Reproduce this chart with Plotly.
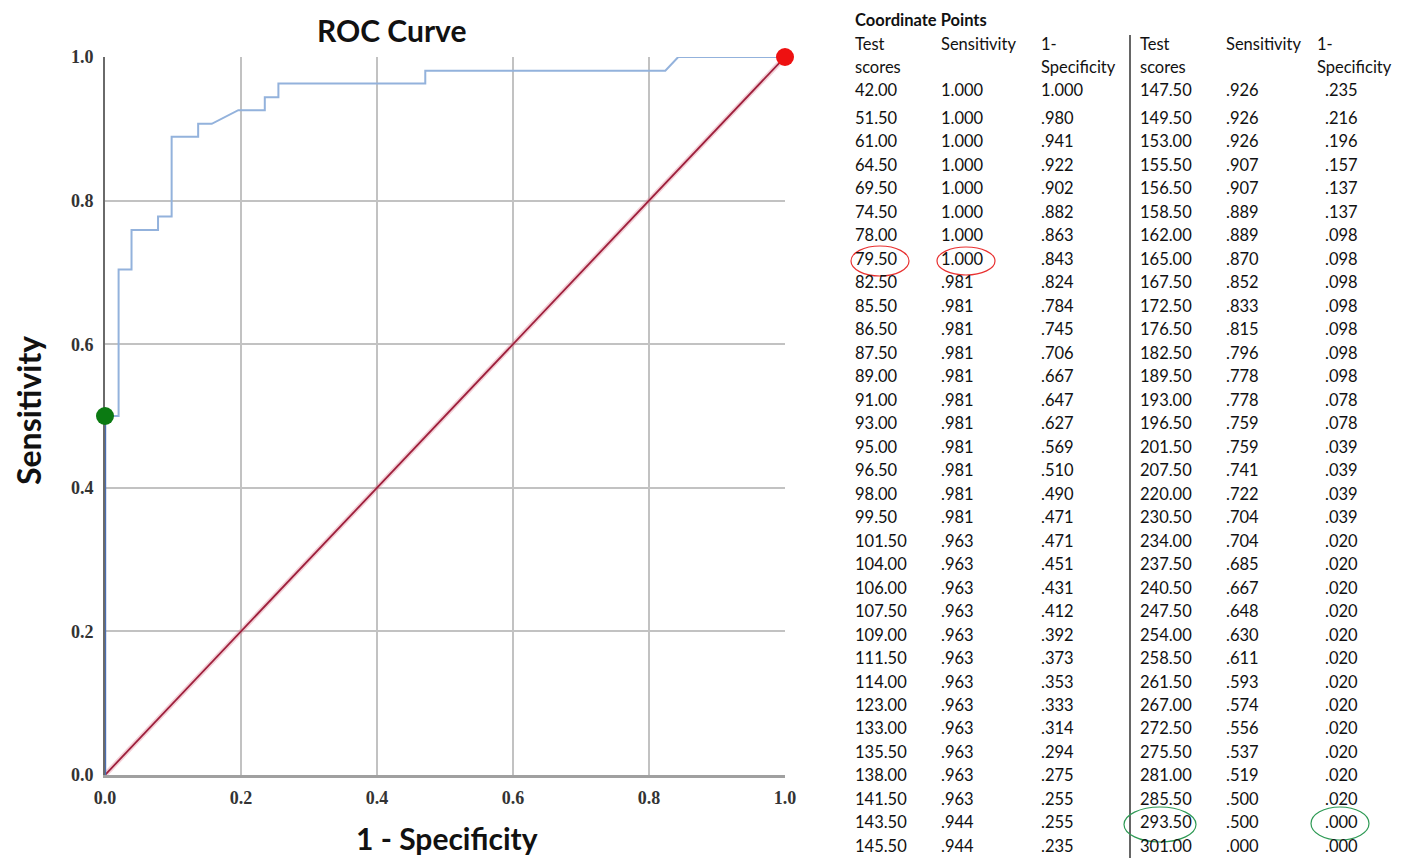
import plotly.graph_objects as go

# ---------------- data ----------------
scores_left = [42.00, 51.50, 61.00, 64.50, 69.50, 74.50, 78.00, 79.50, 82.50, 85.50, 86.50,
               87.50, 89.00, 91.00, 93.00, 95.00, 96.50, 98.00, 99.50, 101.50, 104.00, 106.00,
               107.50, 109.00, 111.50, 114.00, 123.00, 133.00, 135.50, 138.00, 141.50, 143.50, 145.50]
sens_left = [1.000, 1.000, 1.000, 1.000, 1.000, 1.000, 1.000, 1.000, .981, .981, .981,
             .981, .981, .981, .981, .981, .981, .981, .981, .963, .963, .963,
             .963, .963, .963, .963, .963, .963, .963, .963, .963, .944, .944]
fpr_left = [1.000, .980, .941, .922, .902, .882, .863, .843, .824, .784, .745,
            .706, .667, .647, .627, .569, .510, .490, .471, .471, .451, .431,
            .412, .392, .373, .353, .333, .314, .294, .275, .255, .255, .235]

scores_right = [147.50, 149.50, 153.00, 155.50, 156.50, 158.50, 162.00, 165.00, 167.50, 172.50, 176.50,
                182.50, 189.50, 193.00, 196.50, 201.50, 207.50, 220.00, 230.50, 234.00, 237.50, 240.50,
                247.50, 254.00, 258.50, 261.50, 267.00, 272.50, 275.50, 281.00, 285.50, 293.50, 301.00]
sens_right = [.926, .926, .926, .907, .907, .889, .889, .870, .852, .833, .815,
              .796, .778, .778, .759, .759, .741, .722, .704, .704, .685, .667,
              .648, .630, .611, .593, .574, .556, .537, .519, .500, .500, .000]
fpr_right = [.235, .216, .196, .157, .137, .137, .098, .098, .098, .098, .098,
             .098, .098, .078, .078, .039, .039, .039, .039, .020, .020, .020,
             .020, .020, .020, .020, .020, .020, .020, .020, .020, .000, .000]

ref_x = [0.0, 1.0]
ref_y = [0.0, 1.0]
green_point = (0.0, 0.5)
red_point = (1.0, 1.0)
axis_ticks = [0.0, 0.2, 0.4, 0.6, 0.8, 1.0]

# ---------------- layout helpers (page pixel -> paper) ----------------
W, H = 1386, 851
OX, OY = 8, 8    # body margin of the page


def fx(px):
    return (px - OX) / W


def fy(py):
    return 1 - (py - OY) / H


def fmt3(v):
    s = f"{v:.3f}"
    return s[1:] if s.startswith("0") else s


roc_x = fpr_left + fpr_right
roc_y = sens_left + sens_right
zero_x = [x for x in roc_x if x == 0.0]
zero_y = [y for x, y in zip(roc_x, roc_y) if x == 0.0]

fig = go.Figure()
fig.add_trace(go.Scatter(x=ref_x, y=ref_y, mode="lines",
                         line=dict(color="rgba(220,120,140,0.35)", width=5),
                         hoverinfo="skip", showlegend=False))
fig.add_trace(go.Scatter(x=ref_x, y=ref_y, mode="lines",
                         line=dict(color="#9e1f3c", width=1.8),
                         showlegend=False))
fig.add_trace(go.Scatter(x=roc_x, y=roc_y, mode="lines",
                         line=dict(color="#93b2dc", width=2),
                         showlegend=False, cliponaxis=False))
fig.add_trace(go.Scatter(x=zero_x, y=zero_y, mode="lines",
                         line=dict(color="#4a6eb2", width=2.4),
                         showlegend=False, cliponaxis=False))
fig.add_trace(go.Scatter(x=[green_point[0]], y=[green_point[1]], mode="markers",
                         marker=dict(color="#0b7a12", size=18),
                         showlegend=False, cliponaxis=False))
fig.add_trace(go.Scatter(x=[red_point[0]], y=[red_point[1]], mode="markers",
                         marker=dict(color="#ee1111", size=18),
                         showlegend=False, cliponaxis=False))

tick_font = dict(family="Liberation Serif", size=18, color="#333333", weight="bold")
tick_text = [f"{t:.1f}" for t in axis_ticks]

fig.update_xaxes(domain=[fx(105), fx(785)], range=[0, 1], tickvals=axis_ticks, ticktext=tick_text,
                 automargin=False, layer="below traces",
                 showgrid=True, gridcolor="#c2c2c2", gridwidth=1.5, zeroline=False,
                 showline=True, linecolor="#a0a0a0", linewidth=3,
                 ticks="outside", ticklen=4, tickcolor="rgba(0,0,0,0)", tickfont=tick_font)
fig.update_yaxes(domain=[fy(775), fy(57)], range=[0, 1], tickvals=axis_ticks, ticktext=tick_text,
                 automargin=False, layer="below traces",
                 showgrid=True, gridcolor="#c2c2c2", gridwidth=1.5, zeroline=False,
                 showline=True, linecolor="#6a6a6a", linewidth=2,
                 ticks="outside", ticklen=6, tickcolor="rgba(0,0,0,0)", tickfont=tick_font)

annotations = []
title_font = "Lato"
annotations.append(dict(text="<b>ROC Curve</b>", x=fx(392), y=fy(30), xref="paper", yref="paper",
                        showarrow=False, xanchor="center", yanchor="middle",
                        font=dict(family=title_font, size=30, color="#111111")))
annotations.append(dict(text="<b>1 - Specificity</b>", x=fx(447), y=fy(838), xref="paper", yref="paper",
                        showarrow=False, xanchor="center", yanchor="middle",
                        font=dict(family=title_font, size=30, color="#111111")))
annotations.append(dict(text="<b>Sensitivity</b>", x=fx(28), y=fy(411), xref="paper", yref="paper",
                        showarrow=False, xanchor="center", yanchor="middle", textangle=-90,
                        font=dict(family=title_font, size=32, color="#111111")))

# ---------------- table ----------------
tfont = dict(family="Lato", size=16.5, color="#111111")
annotations.append(dict(text="<b>Coordinate Points</b>", x=fx(853), y=fy(20), xref="paper", yref="paper",
                        showarrow=False, xanchor="left", yanchor="middle",
                        font=dict(family="Lato", size=16.5, color="#111111")))
col_left = [853, 939, 1039]
col_right = [1138, 1224, 1323]
head_left = [853, 939, 1039]
head_right = [1138, 1224, 1315]
headers1 = ["Test", "Sensitivity", "1-"]
headers2 = ["scores", "", "Specificity"]


def row_y(i):
    return 90 if i == 0 else 118 + (i - 1) * 23.48


for cols, heads, sc, se, fp in [(col_left, head_left, scores_left, sens_left, fpr_left),
                                (col_right, head_right, scores_right, sens_right, fpr_right)]:
    for hx, h1, h2 in zip(heads, headers1, headers2):
        annotations.append(dict(text=h1, x=fx(hx), y=fy(44), xref="paper", yref="paper",
                                showarrow=False, xanchor="left", yanchor="middle", font=tfont))
        if h2:
            annotations.append(dict(text=h2, x=fx(hx), y=fy(67), xref="paper", yref="paper",
                                    showarrow=False, xanchor="left", yanchor="middle", font=tfont))
    for i, (a, b, c) in enumerate(zip(sc, se, fp)):
        for cx, t in zip(cols, [f"{a:.2f}", fmt3(b), fmt3(c)]):
            annotations.append(dict(text=t, x=fx(cx), y=fy(row_y(i)), xref="paper", yref="paper",
                                    showarrow=False, xanchor="left", yanchor="middle", font=tfont))

shapes = [
    dict(type="line", xref="paper", yref="paper", x0=fx(1130), x1=fx(1130), y0=fy(35), y1=fy(858),
         line=dict(color="#333333", width=1.5)),
    dict(type="circle", xref="paper", yref="paper", x0=fx(851), x1=fx(909), y0=fy(276), y1=fy(246),
         line=dict(color="#e83030", width=1.2)),
    dict(type="circle", xref="paper", yref="paper", x0=fx(937), x1=fx(995), y0=fy(275), y1=fy(247),
         line=dict(color="#e83030", width=1.2)),
    dict(type="circle", xref="paper", yref="paper", x0=fx(1124), x1=fx(1196), y0=fy(842), y1=fy(807),
         line=dict(color="#2e9a55", width=1.2)),
    dict(type="circle", xref="paper", yref="paper", x0=fx(1311), x1=fx(1369), y0=fy(840), y1=fy(807),
         line=dict(color="#2e9a55", width=1.2)),
]

fig.update_layout(width=W, height=H, margin=dict(l=0, r=0, t=0, b=0, autoexpand=False),
                  paper_bgcolor="white", plot_bgcolor="white",
                  annotations=annotations, shapes=shapes, showlegend=False)

fig.write_html("out.html")
